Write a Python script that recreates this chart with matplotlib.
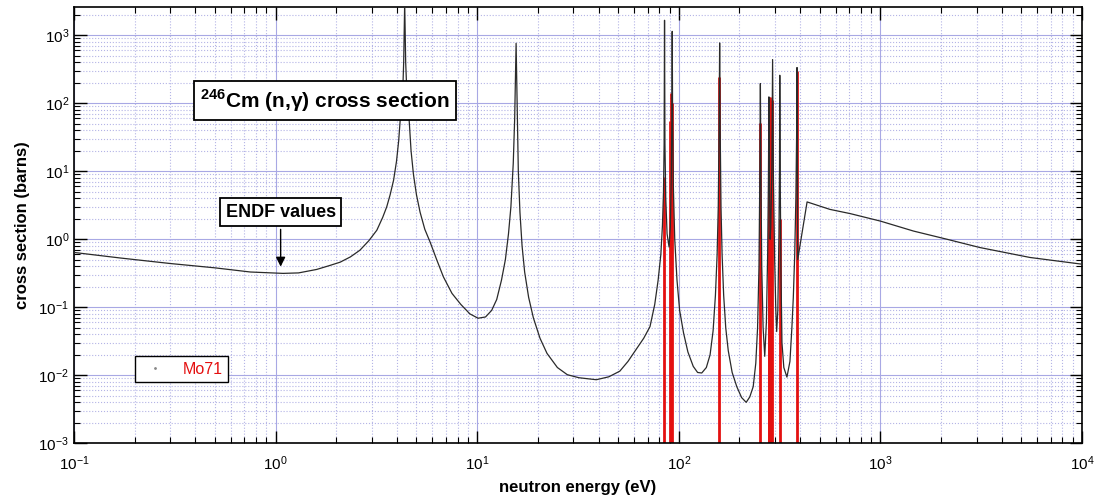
import matplotlib
matplotlib.use("Agg")
import matplotlib.pyplot as plt
from matplotlib.lines import Line2D

plt.rcParams['font.family'] = ['Liberation Sans', 'DejaVu Sans']
plt.rcParams['mathtext.fontset'] = 'custom'
plt.rcParams['mathtext.rm'] = 'Liberation Sans'
plt.rcParams['mathtext.bf'] = 'Liberation Sans:bold'

# ===================== DADOS ENDF =====================
energia_endf = [0.1, 0.17, 0.3, 0.5, 0.75, 1.09, 1.3, 1.6, 1.85, 2.09, 2.35, 2.62,
                2.9, 3.18, 3.4, 3.56, 3.7, 3.85, 3.98, 4.08, 4.15, 4.22, 4.28, 4.32,
                4.37, 4.42, 4.47, 4.53, 4.6, 4.7, 4.83, 5.0, 5.21, 5.5, 5.85, 6.3,
                6.8, 7.5, 8.3, 9.2, 10.1, 11.0, 11.8, 12.5, 13.2, 13.8, 14.3, 14.7,
                15.1, 15.35, 15.5, 15.6, 15.7, 15.85, 16.0, 16.3, 16.7, 17.2, 18.0,
                19.0, 20.5, 22.2, 25.0, 28.0, 32.0, 39.0, 45.0, 51.0, 56.0, 62.0,
                67.0, 72.0, 76.0, 79.0, 81.5, 83.0, 84.0, 84.6, 85.0, 85.4, 86.2,
                87.5, 89.5, 90.8, 91.8, 92.4, 92.8, 93.2, 94.0, 95.5, 98.0, 101.0,
                105.6, 111.0, 118.0, 124.0, 130.0, 137.0, 143.0, 148.0, 152.0, 155.0,
                157.0, 158.5, 159.5, 160.5, 162.0, 164.0, 167.0, 171.0, 176.0, 184.0,
                194.0, 205.0, 216.0, 225.0, 234.0, 241.0, 246.0, 250.0, 252.5, 254.0,
                255.5, 258.0, 262.0, 267.0, 272.0, 276.0, 278.5, 280.0, 281.5, 284.0,
                286.0, 289.5, 292.0, 294.5, 299.0, 303.0, 306.0, 310.0, 314.0, 316.0,
                317.0, 318.5, 321.0, 325.0, 332.0, 344.0, 356.0, 364.0, 370.0, 376.0,
                381.0, 384.5, 386.0, 387.5, 389.0, 433.0, 562.0, 710.0, 1000.0,
                1460.0, 2140.0, 3120.0, 5520.0, 10000.0]
secao_endf = [0.64, 0.53, 0.44, 0.38, 0.33, 0.315, 0.32, 0.36, 0.41, 0.46, 0.55, 0.69,
              0.95, 1.36, 2.1, 3.0, 4.5, 7.4, 14, 28, 56, 100, 170, 400,
              3000, 400, 170, 90, 56, 20, 9, 4.5, 2.5, 1.4, 0.9, 0.5,
              0.28, 0.16, 0.11, 0.08, 0.069, 0.072, 0.09, 0.13, 0.25, 0.5, 1.2, 3,
              13, 60, 250, 760, 250, 40, 10, 2.5, 0.8, 0.33, 0.14,
              0.07, 0.035, 0.021, 0.013, 0.0102, 0.0092, 0.0086, 0.0095, 0.0115, 0.016, 0.025,
              0.035, 0.052, 0.11, 0.25, 0.6, 1.6, 5, 25, 1660, 25, 4,
              1.2, 0.77, 1.5, 8, 60, 1140, 60, 6, 1.0, 0.25, 0.09,
              0.042, 0.022, 0.0135, 0.011, 0.0108, 0.013, 0.02, 0.045, 0.15, 0.6,
              3, 40, 770, 40, 3, 0.6, 0.15, 0.05, 0.023, 0.011,
              0.0068, 0.0047, 0.004, 0.0048, 0.0068, 0.015, 0.05, 0.4, 10, 195,
              10, 0.4, 0.05, 0.019, 0.06, 0.6, 8, 124, 8, 1.0,
              1.5, 10, 439, 10, 0.5, 0.09, 0.044, 0.09, 1.2, 10,
              258, 10, 0.4, 0.03, 0.013, 0.0094, 0.016, 0.05, 0.14, 0.6,
              4, 40, 335, 40, 0.5, 3.54, 2.75, 2.38, 1.85,
              1.32, 1.0, 0.755, 0.54, 0.43]

# ===================== DADOS Mo71 =====================
energia_mo71 = [84.1, 90.3, 91.3, 92.3, 158.8, 252.0, 279.0, 281.5, 284.0, 286.5,
                289.0, 318.0, 386.0]
topo_mo71 = [8.2, 55, 140, 100, 244, 51, 110, 124, 124, 100, 110, 2, 300]

# ===================== FIGURA =====================
fig = plt.figure(figsize=(10.99, 5.01), dpi=100)
ax = fig.add_axes([0.0673, 0.1152, 0.9172, 0.8708])

ax.set_xscale('log')
ax.set_yscale('log')

ax.grid(True, which='major', color='#a8a8e4', linewidth=0.8, linestyle='-')
ax.grid(True, which='minor', color='#b4b4e6', linewidth=0.8, linestyle=':')
ax.set_axisbelow(True)

ax.vlines(energia_mo71, 1e-4, topo_mo71, color='#e41010', linewidth=2.0, zorder=2)
ax.plot(energia_endf, secao_endf, color='#2a2a2a', linewidth=0.9, zorder=3)

ax.set_xlim(0.1, 1e4)
ax.set_ylim(1e-3, 2600)

ax.tick_params(which='both', direction='in', top=True, right=True, labelsize=11)
ax.tick_params(axis='x', which='major', pad=8)
ax.tick_params(which='major', length=9, width=1)
ax.tick_params(which='minor', length=4.5, width=0.8)
for s in ax.spines.values():
    s.set_linewidth(1.2)

ax.set_xlabel("neutron energy (eV)", fontsize=12, fontweight='bold', labelpad=5)
ax.set_ylabel("cross section (barns)", fontsize=12, fontweight='bold', labelpad=6)

caixa = dict(boxstyle='square,pad=0.3', fc='white', ec='black', lw=1.3)
ax.text(0.249, 0.785, r"$^{\mathbf{246}}$Cm (n,γ) cross section", transform=ax.transAxes,
        ha='center', va='center', fontsize=15, fontweight='bold', bbox=caixa, zorder=5)

ax.annotate("ENDF values", xy=(1.06, 0.36), xytext=(0.205, 0.530),
            textcoords='axes fraction', ha='center', va='center',
            fontsize=13, fontweight='bold', bbox=caixa, zorder=5,
            arrowprops=dict(arrowstyle='-|>', color='black', lw=1, mutation_scale=14))

handle = Line2D([], [], marker='.', markersize=2, color='#888888', linestyle='none')
leg = ax.legend([handle], ['Mo71'], loc='lower left', bbox_to_anchor=(0.061, 0.14),
                borderaxespad=0, fancybox=False, framealpha=1, edgecolor='black',
                fontsize=11.5, handlelength=1.8, borderpad=0.35)
leg.get_frame().set_linewidth(1.0)
for t in leg.get_texts():
    t.set_color('#e41010')

fig.savefig("out.png", dpi=100)
